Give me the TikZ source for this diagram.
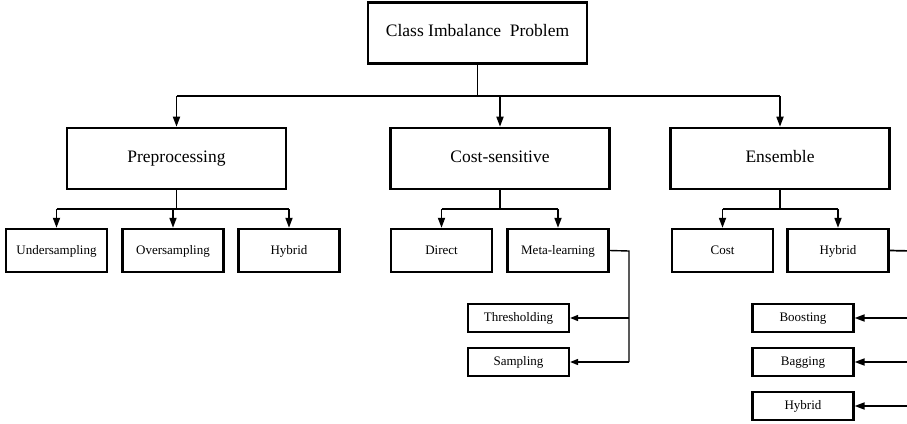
\documentclass[tikz,border=0pt]{standalone}
\usepackage{fontspec}
\setmainfont{Liberation Serif}
\usetikzlibrary{arrows.meta}
\begin{document}
\begin{tikzpicture}[x=1pt,y=-1pt,
  bigbox/.style={draw,line width=2.6pt,minimum width=219pt,minimum height=61pt,inner sep=0pt,text height=0.75em,text depth=0pt,font=\fontsize{17.5}{20}\selectfont},
  midbox/.style={draw,line width=2.4pt,minimum width=101pt,minimum height=43pt,inner sep=0pt,text height=0.72em,text depth=0pt,font=\fontsize{13}{15}\selectfont},
  smallbox/.style={draw,line width=2.2pt,minimum width=101pt,minimum height=28pt,inner sep=0pt,text height=0.72em,text depth=0pt,font=\fontsize{13}{15}\selectfont},
  wire/.style={line width=1.7pt},
  arr/.style={line width=1.7pt,-{Triangle[length=10pt,width=7pt]}},
  sarr/.style={line width=1.4pt,-{Triangle[length=8pt,width=6pt]}}
]
\useasboundingbox (0,0) rectangle (907,423);
\clip (0,0) rectangle (907,423);
% level 0
\node[bigbox] (top) at (477.5,33) {Class Imbalance\ \ Problem};
% level 1
\node[bigbox] (pre) at (176.5,158.5) {Preprocessing};
\node[bigbox] (cs) at (500,158.5) {Cost-sensitive};
\node[bigbox] (ens) at (780,158.5) {Ensemble};
% level 2
\node[midbox] (und) at (56.5,250.5) {Undersampling};
\node[midbox] (ovr) at (173,250.5) {Oversampling};
\node[midbox] (hy1) at (289,250.5) {Hybrid};
\node[midbox] (dir) at (441.5,250.5) {Direct};
\node[midbox] (met) at (558,250.5) {Meta-learning};
\node[midbox] (cst) at (722.5,250.5) {Cost};
\node[midbox] (hy2) at (838,250.5) {Hybrid};
% level 3
\node[smallbox] (thr) at (518.5,318) {Thresholding};
\node[smallbox] (smp) at (518.5,362) {Sampling};
\node[smallbox] (bst) at (803,318) {Boosting};
\node[smallbox] (bag) at (803,362) {Bagging};
\node[smallbox] (hy3) at (803,406) {Hybrid};
% junction coordinates
\coordinate (j0) at (477.5,96);
\coordinate (j1) at (176.5,209);
\coordinate (j2) at (499,209);
\coordinate (j3) at (780,209);
\coordinate (mj) at (629,251);
\coordinate (ej) at (912,251);
% connectors level 0 -> 1
\draw[wire] (top.south) -- (j0);
\draw[wire] (pre.north |- j0) -- (ens.north |- j0);
\draw[arr] (pre.north |- j0) -- (pre.north);
\draw[arr] (cs.north |- j0) -- (cs.north);
\draw[arr] (ens.north |- j0) -- (ens.north);
% preprocessing children
\draw[wire] (pre.south) -- (j1);
\draw[wire] (und.north |- j1) -- (hy1.north |- j1);
\draw[arr] (und.north |- j1) -- (und.north);
\draw[arr] (ovr.north |- j1) -- (ovr.north);
\draw[arr] (hy1.north |- j1) -- (hy1.north);
% cost-sensitive children
\draw[wire] (cs.south) -- (cs.south |- j2);
\draw[wire] (dir.north |- j2) -- (met.north |- j2);
\draw[arr] (dir.north |- j2) -- (dir.north);
\draw[arr] (met.north |- j2) -- (met.north);
% ensemble children
\draw[wire] (ens.south) -- (j3);
\draw[wire] (cst.north |- j3) -- (hy2.north |- j3);
\draw[arr] (cst.north |- j3) -- (cst.north);
\draw[arr] (hy2.north |- j3) -- (hy2.north);
% meta-learning branch
\draw[wire,line width=1.4pt] (met.east) -- (mj) -- (mj |- smp.east);
\draw[sarr] (mj |- thr.east) -- (thr.east);
\draw[sarr] (mj |- smp.east) -- (smp.east);
% ensemble hybrid branch
\draw[wire] (hy2.east) -- (ej) -- (ej |- hy3.east);
\draw[arr] (ej |- bst.east) -- (bst.east);
\draw[arr] (ej |- bag.east) -- (bag.east);
\draw[arr] (ej |- hy3.east) -- (hy3.east);
\end{tikzpicture}
\end{document}
